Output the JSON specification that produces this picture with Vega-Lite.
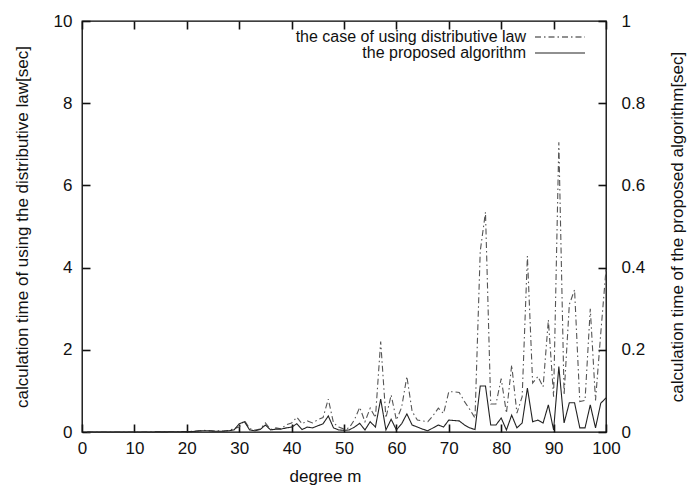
{
  "$schema": "https://vega.github.io/schema/vega-lite/v6.json",
  "width": 524,
  "height": 411,
  "autosize": {"type": "none"},
  "padding": {"left": 82, "top": 21, "right": 83, "bottom": 54},
  "background": "white",
  "config": {
    "font": "Liberation Sans",
    "view": {"stroke": "black", "strokeWidth": 1.3},
    "axis": {
      "grid": false,
      "labelFlush": false,
      "domain": false,
      "offset": -8,
      "ticks": true,
      "zindex": 1,
      "tickColor": "#111",
      "tickWidth": 1.6,
      "tickSize": 8,
      "labelFont": "Liberation Sans",
      "labelFontSize": 17,
      "labelColor": "#111",
      "titleFont": "Liberation Sans",
      "titleFontSize": 17,
      "titleFontWeight": "normal",
      "titleColor": "#111"
    }
  },
  "data": {
    "values": [
      {"m": 1, "d": 0, "p": 0}, {"m": 2, "d": 0, "p": 0}, {"m": 3, "d": 0, "p": 0},
      {"m": 4, "d": 0, "p": 0}, {"m": 5, "d": 0, "p": 0}, {"m": 6, "d": 0, "p": 0},
      {"m": 7, "d": 0, "p": 0}, {"m": 8, "d": 0, "p": 0}, {"m": 9, "d": 0, "p": 0},
      {"m": 10, "d": 0.001, "p": 0}, {"m": 11, "d": 0.001, "p": 0}, {"m": 12, "d": 0.002, "p": 0},
      {"m": 13, "d": 0.002, "p": 0}, {"m": 14, "d": 0.003, "p": 0.0002}, {"m": 15, "d": 0.004, "p": 0.0003},
      {"m": 16, "d": 0.005, "p": 0.0004}, {"m": 17, "d": 0.006, "p": 0.0005}, {"m": 18, "d": 0.008, "p": 0.0006},
      {"m": 19, "d": 0.01, "p": 0.0008}, {"m": 20, "d": 0.012, "p": 0.001}, {"m": 21, "d": 0.015, "p": 0.001},
      {"m": 22, "d": 0.03, "p": 0.002}, {"m": 23, "d": 0.04, "p": 0.003}, {"m": 24, "d": 0.035, "p": 0.003},
      {"m": 25, "d": 0.03, "p": 0.002}, {"m": 26, "d": 0.03, "p": 0.002}, {"m": 27, "d": 0.025, "p": 0.002},
      {"m": 28, "d": 0.04, "p": 0.003}, {"m": 29, "d": 0.08, "p": 0.005}, {"m": 30, "d": 0.12, "p": 0.02},
      {"m": 31, "d": 0.28, "p": 0.025}, {"m": 32, "d": 0.08, "p": 0.005}, {"m": 33, "d": 0.05, "p": 0.003},
      {"m": 34, "d": 0.07, "p": 0.006}, {"m": 35, "d": 0.22, "p": 0.017}, {"m": 36, "d": 0.06, "p": 0.005},
      {"m": 37, "d": 0.1, "p": 0.007}, {"m": 38, "d": 0.08, "p": 0.007}, {"m": 39, "d": 0.18, "p": 0.01},
      {"m": 40, "d": 0.22, "p": 0.012}, {"m": 41, "d": 0.36, "p": 0.02}, {"m": 42, "d": 0.2, "p": 0.006},
      {"m": 43, "d": 0.27, "p": 0.012}, {"m": 44, "d": 0.22, "p": 0.01}, {"m": 45, "d": 0.3, "p": 0.015},
      {"m": 46, "d": 0.35, "p": 0.02}, {"m": 47, "d": 0.8, "p": 0.039}, {"m": 48, "d": 0.22, "p": 0.01},
      {"m": 49, "d": 0.12, "p": 0.005}, {"m": 50, "d": 0.07, "p": 0.004}, {"m": 51, "d": 0.1, "p": 0.005},
      {"m": 52, "d": 0.3, "p": 0.012}, {"m": 53, "d": 0.6, "p": 0.021}, {"m": 54, "d": 0.25, "p": 0.005},
      {"m": 55, "d": 0.58, "p": 0.025}, {"m": 56, "d": 0.35, "p": 0.012}, {"m": 57, "d": 2.2, "p": 0.08},
      {"m": 58, "d": 0.34, "p": 0.005}, {"m": 59, "d": 0.9, "p": 0.031}, {"m": 60, "d": 0.29, "p": 0.005},
      {"m": 61, "d": 0.6, "p": 0.02}, {"m": 62, "d": 1.35, "p": 0.044}, {"m": 63, "d": 0.5, "p": 0.017},
      {"m": 64, "d": 0.29, "p": 0.012}, {"m": 65, "d": 0.27, "p": 0.007}, {"m": 66, "d": 0.25, "p": 0.003},
      {"m": 67, "d": 0.4, "p": 0.01}, {"m": 68, "d": 0.58, "p": 0.017}, {"m": 69, "d": 0.45, "p": 0.012},
      {"m": 70, "d": 0.98, "p": 0.029}, {"m": 71, "d": 0.98, "p": 0.028}, {"m": 72, "d": 0.96, "p": 0.027},
      {"m": 73, "d": 0.74, "p": 0.017}, {"m": 74, "d": 0.55, "p": 0.01}, {"m": 75, "d": 0.34, "p": 0.006},
      {"m": 76, "d": 4.4, "p": 0.112}, {"m": 77, "d": 5.35, "p": 0.112}, {"m": 78, "d": 0.68, "p": 0.017},
      {"m": 79, "d": 0.68, "p": 0.017}, {"m": 80, "d": 1.3, "p": 0.034}, {"m": 81, "d": 0.46, "p": 0.005},
      {"m": 82, "d": 1.63, "p": 0.041}, {"m": 83, "d": 0.46, "p": 0.01}, {"m": 84, "d": 0.86, "p": 0.022},
      {"m": 85, "d": 4.28, "p": 0.107}, {"m": 86, "d": 1.19, "p": 0.025}, {"m": 87, "d": 1.35, "p": 0.029},
      {"m": 88, "d": 1.1, "p": 0.022}, {"m": 89, "d": 2.73, "p": 0.066}, {"m": 90, "d": 0.86, "p": 0.005},
      {"m": 91, "d": 7.05, "p": 0.159}, {"m": 92, "d": 0.9, "p": 0.022}, {"m": 93, "d": 3.1, "p": 0.071},
      {"m": 94, "d": 3.46, "p": 0.071}, {"m": 95, "d": 0.74, "p": 0.01}, {"m": 96, "d": 0.77, "p": 0.01},
      {"m": 97, "d": 3.0, "p": 0.066}, {"m": 98, "d": 0.77, "p": 0.01}, {"m": 99, "d": 2.4, "p": 0.07},
      {"m": 100, "d": 3.95, "p": 0.083}
    ]
  },
  "layer": [
    {
      "mark": {"type": "line", "strokeWidth": 1.1, "color": "#555"},
      "encoding": {
        "x": {
          "field": "m", "type": "quantitative",
          "scale": {"domain": [0, 100], "nice": false},
          "axis": {
            "orient": "bottom",
            "values": [0, 10, 20, 30, 40, 50, 60, 70, 80, 90, 100],
            "labelPadding": 8,
            "title": "degree m",
            "titlePadding": 12,
            "titleX": 243
          }
        },
        "y": {
          "field": "d", "type": "quantitative",
          "scale": {"domain": [0, 10], "nice": false},
          "axis": {
            "orient": "left",
            "values": [0, 2, 4, 6, 8, 10],
            "labelPadding": 10,
            "title": "calculation time of using the distributive law[sec]",
            "titlePadding": 22
          }
        },
        "strokeDash": {
          "datum": "the case of using distributive law",
          "type": "nominal",
          "scale": {
            "domain": ["the case of using distributive law", "the proposed algorithm"],
            "range": [[6, 3, 1.5, 3], [1, 0]]
          },
          "legend": {
            "orient": "none",
            "legendX": 470,
            "legendY": 8,
            "title": null,
            "symbolType": "M-4,0H4",
            "symbolSize": 156.25,
            "symbolStrokeWidth": 1.2,
            "symbolStrokeColor": "#333",
            "symbolFillColor": "transparent",
            "labelFontSize": 16,
            "labelColor": "#111",
            "labelAlign": "right",
            "labelOffset": -42,
            "labelLimit": 0,
            "padding": 0,
            "rowPadding": -1
          }
        }
      }
    },
    {
      "mark": {"type": "line", "strokeWidth": 1.1, "color": "#222"},
      "encoding": {
        "x": {
          "field": "m", "type": "quantitative",
          "axis": {
            "orient": "top",
            "values": [0, 10, 20, 30, 40, 50, 60, 70, 80, 90, 100],
            "labels": false,
            "title": null
          }
        },
        "y": {
          "field": "p", "type": "quantitative",
          "scale": {"domain": [0, 1], "nice": false},
          "axis": {
            "orient": "right",
            "values": [0, 0.2, 0.4, 0.6, 0.8, 1],
            "format": "~g",
            "labelPadding": 15,
            "title": "calculation time of the proposed algorithm[sec]",
            "titleAngle": -90,
            "titlePadding": 42
          }
        },
        "strokeDash": {"datum": "the proposed algorithm", "type": "nominal"}
      }
    }
  ],
  "resolve": {"scale": {"y": "independent"}, "axis": {"x": "independent"}}
}
